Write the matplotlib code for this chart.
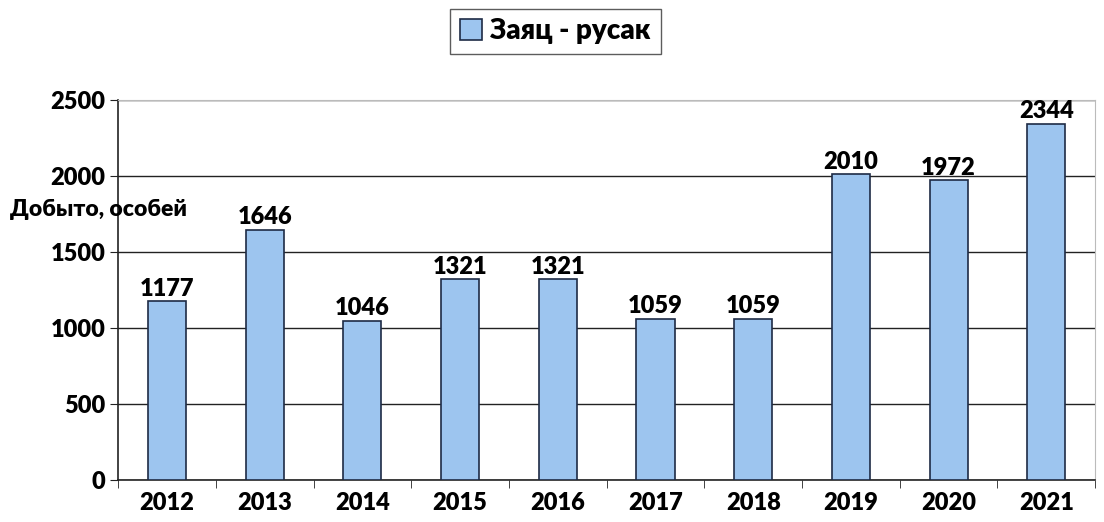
import numpy as np
import matplotlib.pyplot as plt

years = ['2012', '2013', '2014', '2015', '2016', '2017', '2018', '2019', '2020', '2021']
hares = [1177, 1646, 1046, 1321, 1321, 1059, 1059, 2010, 1972, 2344]

BAR_COLOR = '#9DC5EF'
EDGE_COLOR = '#1E2B45'
W = 'heavy'

plt.rcParams['font.family'] = ['Lato', 'DejaVu Sans']
plt.rcParams['font.weight'] = W

fig = plt.figure(figsize=(11.04, 5.22), dpi=100)
ax = fig.add_axes([0.107, 0.0805, 0.885, 0.728])

x = np.arange(len(years))
bars = ax.bar(x, hares, width=0.39, color=BAR_COLOR, edgecolor=EDGE_COLOR,
              linewidth=1.2, zorder=3, label='Заяц - русак')

for xi, v in zip(x, hares):
    ax.text(xi, v + 10, str(v), ha='center', va='bottom', fontsize=17,
            fontweight=W, zorder=4)

ax.set_xlim(-0.5, len(years) - 0.5)
ax.set_ylim(0, 2500)
ax.set_yticks([0, 500, 1000, 1500, 2000, 2500])
ax.grid(axis='y', color='#222222', linewidth=1.0, zorder=0)

# category labels centred, tick marks between categories
ax.set_xticks(x)
ax.set_xticklabels(years, fontsize=17, fontweight=W)
ax.tick_params(axis='x', length=0, pad=9)
ax.set_xticks(np.arange(-0.5, len(years) - 0.4, 1.0), minor=True)
ax.tick_params(axis='x', which='minor', length=6, direction='out', color='#222222')
ax.tick_params(axis='y', length=6, direction='out', labelsize=17, color='#222222', pad=3)
for lbl in ax.get_yticklabels():
    lbl.set_fontweight(W)

for side in ['left', 'bottom']:
    ax.spines[side].set_color('#222222')
    ax.spines[side].set_linewidth(1.2)
for side in ['top', 'right']:
    ax.spines[side].set_color('#BBBBBB')
    ax.spines[side].set_linewidth(0.8)

fig.text(0.009, 0.598, 'Добыто, особей', fontsize=16.5, fontweight=W,
         ha='left', va='center')

leg = fig.legend(handles=[bars], loc='center', bbox_to_anchor=(0.503, 0.94),
                 frameon=True, fancybox=False, edgecolor='#333333',
                 handlelength=0.8, handleheight=0.8, handletextpad=0.3,
                 borderpad=0.35, borderaxespad=0.0,
                 prop={'weight': W, 'size': 20})
leg.get_frame().set_linewidth(1.0)

fig.savefig('out.png', dpi=100)
